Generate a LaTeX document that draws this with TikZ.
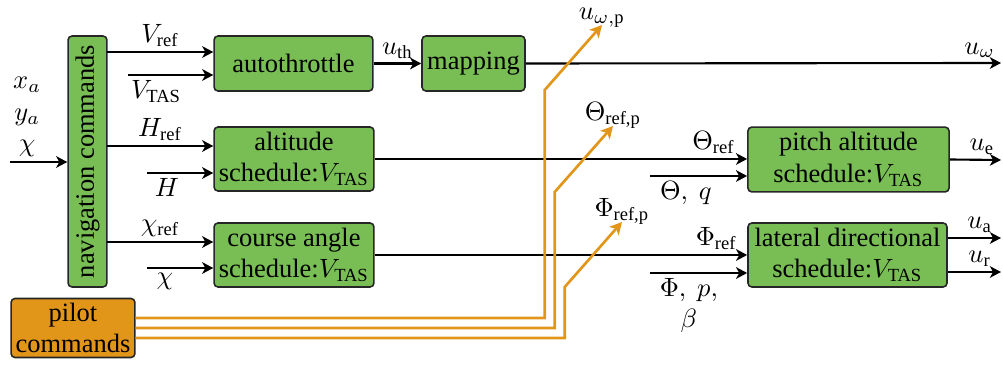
\documentclass[tikz,border=0pt]{standalone}
\usepackage{amsmath}
\usepackage{fontspec}
\setmainfont{Liberation Serif}
\usepackage{xcolor}
\usepackage{tikz}
\usetikzlibrary{arrows.meta, positioning}

\definecolor{boxgreen}{RGB}{120,190,85}
\definecolor{pilotorange}{RGB}{225,150,25}

\begin{document}
\begin{tikzpicture}[
      x=0.3778pt, y=-0.3778pt,
      box/.style={rectangle, rounded corners=1.5pt, draw=black!85, semithick,
                  fill=boxgreen, inner sep=1pt, align=center,
                  minimum width=60pt, minimum height=20.8pt},
      pbox/.style={box, fill=pilotorange, minimum width=46.8pt, minimum height=22.3pt},
      arr/.style={-{Stealth[length=4.2pt, width=4.4pt, inset=1.2pt]}, thick},
      parr/.style={-{Stealth[length=4.6pt, width=4.8pt, inset=1.2pt]}, line width=1pt, draw=pilotorange},
      lbl/.style={inner sep=1.5pt},
      plbl/.style={above, inner sep=0pt, yshift=-1.5pt, text=black}
    ]
    \useasboundingbox (0,0) rectangle (1003,366);

    \node[box, rotate=90, minimum width=94.8pt, minimum height=14.7pt] (nav) at (87.5,161.5) {navigation commands};
    \node[box] (auto) at (293.5,63.5) {autothrottle};
    \node[box, minimum width=38.9pt] (map) at (473.5,63.5) {mapping};
    \node[box, minimum width=60.4pt, minimum height=24.2pt] (alt) at (294,159) {altitude\\schedule:$V_{\text{TAS}}$};
    \node[box, minimum width=60.4pt, minimum height=24.2pt] (course) at (294,255) {course angle\\schedule:$V_{\text{TAS}}$};
    \node[box, minimum width=76pt, minimum height=24.5pt] (pitch) at (848.5,159.5) {pitch altitude\\schedule:$V_{\text{TAS}}$};
    \node[box, minimum width=75.2pt, minimum height=24.2pt] (lat) at (847.5,255) {lateral directional\\schedule:$V_{\text{TAS}}$};
    \node[pbox] (pilot) at (73,328) {pilot\\commands};

    \coordinate (navin) at (10,162);
    \coordinate (vref) at (107,52);
    \coordinate (vtas) at (128,75);
    \coordinate (href) at (107,146);
    \coordinate (hin) at (147,173);
    \coordinate (chiref) at (107,242);
    \coordinate (chiin) at (147,268);
    \coordinate (thq) at (650,176);
    \coordinate (php) at (650,273);
    \coordinate (uw) at (1001,63);
    \coordinate (ue) at (1001,160);
    \coordinate (ua) at (1001,238);
    \coordinate (ur) at (1001,272);
    \coordinate (uwp) at (602,25);
    \coordinate (thp) at (613,126);
    \coordinate (phip) at (622,222);

    \draw[arr] (navin) -- (navin -| nav.north)
      node[pos=0.3, above, lbl, align=center] {$x_a$\\$y_a$\\$\chi$};
    \draw[arr] (vref) -- (vref -| auto.west) node[midway, above, lbl] {$V_{\text{ref}}$};
    \draw[arr] (vtas) -- (vtas -| auto.west) node[pos=0.33, below, lbl] {$V_{\text{TAS}}$};
    \draw[arr] (href) -- (href -| alt.west) node[midway, above, lbl] {$H_{\text{ref}}$};
    \draw[arr] (hin) -- (hin -| alt.west) node[pos=0.3, below, lbl] {$H$};
    \draw[arr] (chiref) -- (chiref -| course.west) node[midway, above, lbl] {$\chi_{\text{ref}}$};
    \draw[arr] (chiin) -- (chiin -| course.west) node[pos=0.27, below, lbl] {$\chi$};

    \draw[arr] (auto) -- (map) node[midway, above, lbl] {$u_{\text{th}}$};
    \draw[arr] (map.east) -- (uw) node[pos=0.955, above, lbl] {$u_{\omega}$};

    \draw[arr] (alt.east) -- (alt.east -| pitch.west) node[pos=0.91, above, lbl] {$\Theta_{\text{ref}}$};
    \draw[arr] (thq) -- (thq -| pitch.west) node[pos=0.37, below, lbl] {$\Theta,\ q$};
    \draw[arr] (pitch.east) -- (ue) node[pos=0.63, above, lbl] {$u_{\text{e}}$};

    \draw[arr] (course.east) -- (course.east -| lat.west) node[pos=0.917, above, lbl] {$\Phi_{\text{ref}}$};
    \draw[arr] (php) -- (php -| lat.west) node[pos=0.4, below, lbl, align=center] {$\Phi,\ p,$\\$\beta$};
    \draw[arr] (ua -| lat.east) -- (ua) node[pos=0.6, above, lbl] {$u_{\text{a}}$};
    \draw[arr] (ur -| lat.east) -- (ur) node[pos=0.6, above, lbl] {$u_{\text{r}}$};

    \draw[parr] ([yshift=3.78pt]pilot.east) -- ++(409,0) -- ++(0,-228) -- (uwp)
      node[plbl] {$u_{\omega,\text{p}}$};
    \draw[parr] (pilot.east) -- ++(419,0) -- ++(0,-136) -- (thp)
      node[plbl] {$\Theta_{\text{ref,p}}$};
    \draw[parr] ([yshift=-3.78pt]pilot.east) -- ++(429,0) -- ++(0,-51) -- (phip)
      node[plbl] {$\Phi_{\text{ref,p}}$};
  \end{tikzpicture}
\end{document}
